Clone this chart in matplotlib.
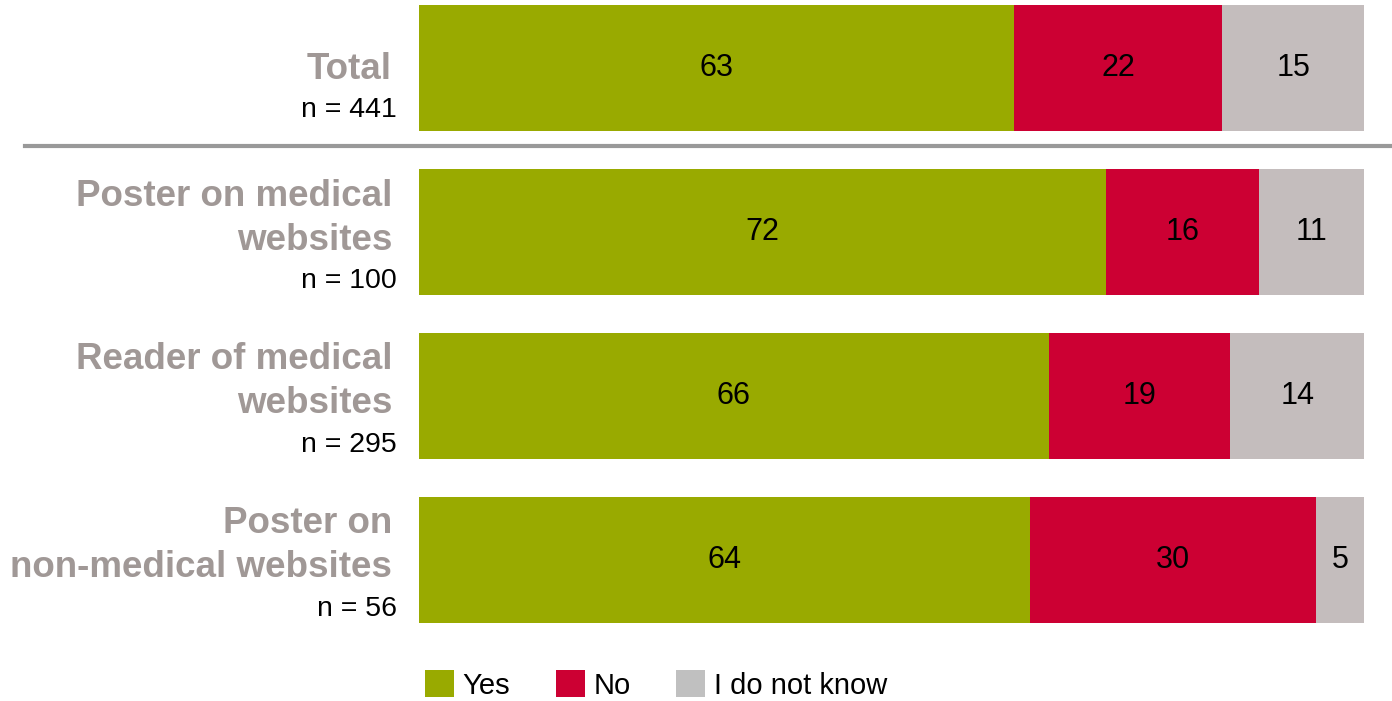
import matplotlib
matplotlib.use('Agg')
import matplotlib.pyplot as plt
import matplotlib.transforms as mtransforms
from matplotlib.patches import Patch
from matplotlib.lines import Line2D
import numpy as np

plt.rcParams['font.family'] = ['Liberation Sans', 'DejaVu Sans']

categories = ['Total', 'Poster on medical\nwebsites', 'Reader of medical\nwebsites',
              'Poster on\nnon-medical websites']
n_labels = ['n = 441', 'n = 100', 'n = 295', 'n = 56']
series = ['Yes', 'No', 'I do not know']
yes = [63, 72, 66, 64]
no = [22, 16, 19, 30]
dont_know = [15, 11, 14, 5]

colors = ['#99aa00', '#cc0033', '#c4bdbd']
legend_colors = ['#99aa00', '#cc0033', '#c0c0c0']
label_gray = '#a09896'

W, H = 1392, 701
fig = plt.figure(figsize=(W / 100, H / 100), dpi=100)
ax = fig.add_axes([419 / W, (H - 623) / H, (1364 - 419) / W, (623 - 5) / H])

vals = np.array([yes, no, dont_know], dtype=float)
# each bar fills the full width
shares = vals / vals.sum(axis=0) * 100
ypos = np.arange(len(categories))
left = np.zeros(len(categories))
for k in range(len(series)):
    ax.barh(ypos, shares[k], left=left, height=0.77, color=colors[k], linewidth=0)
    for i in range(len(categories)):
        ax.text(left[i] + shares[k][i] / 2, ypos[i], str(int(vals[k][i])),
                ha='center', va='center', fontsize=22, color='black')
    left += shares[k]

ax.set_xlim(0, 100)
ax.set_ylim(3.385, -0.385)
ax.axis('off')

# category labels on the left
blend = mtransforms.blended_transform_factory(fig.transFigure, ax.transData)
px = 0.72
for i, (cat, nl) in enumerate(zip(categories, n_labels)):
    lines = cat.split('\n')
    n_off = 42 if len(lines) == 1 else 49
    ax.annotate(nl, xy=(397 / W, i), xycoords=blend, xytext=(0, -n_off * px),
                textcoords='offset points', ha='right', va='center', fontsize=20.5,
                color='black', annotation_clip=False)
    for j, line in enumerate(reversed(lines)):
        off = n_off - 41 - 44 * j
        ax.annotate(line, xy=(392 / W, i), xycoords=blend, xytext=(0, -off * px),
                    textcoords='offset points', ha='right', va='center', fontsize=26.5,
                    fontweight='bold', color=label_gray, annotation_clip=False)

# separator under Total
fig.add_artist(Line2D([25 / W, 1.0], [0.478, 0.478], transform=blend,
                      color='#999999', linewidth=3))

handles = [Patch(facecolor=c, edgecolor='none') for c in legend_colors]
fig.legend(handles, series, loc='center', bbox_to_anchor=(656 / W, (H - 685) / H),
           ncol=3, frameon=False, fontsize=21, handlelength=1.0, handleheight=1.0,
           handletextpad=0.3, columnspacing=1.55, borderpad=0)

plt.savefig('out.png', dpi=100)
